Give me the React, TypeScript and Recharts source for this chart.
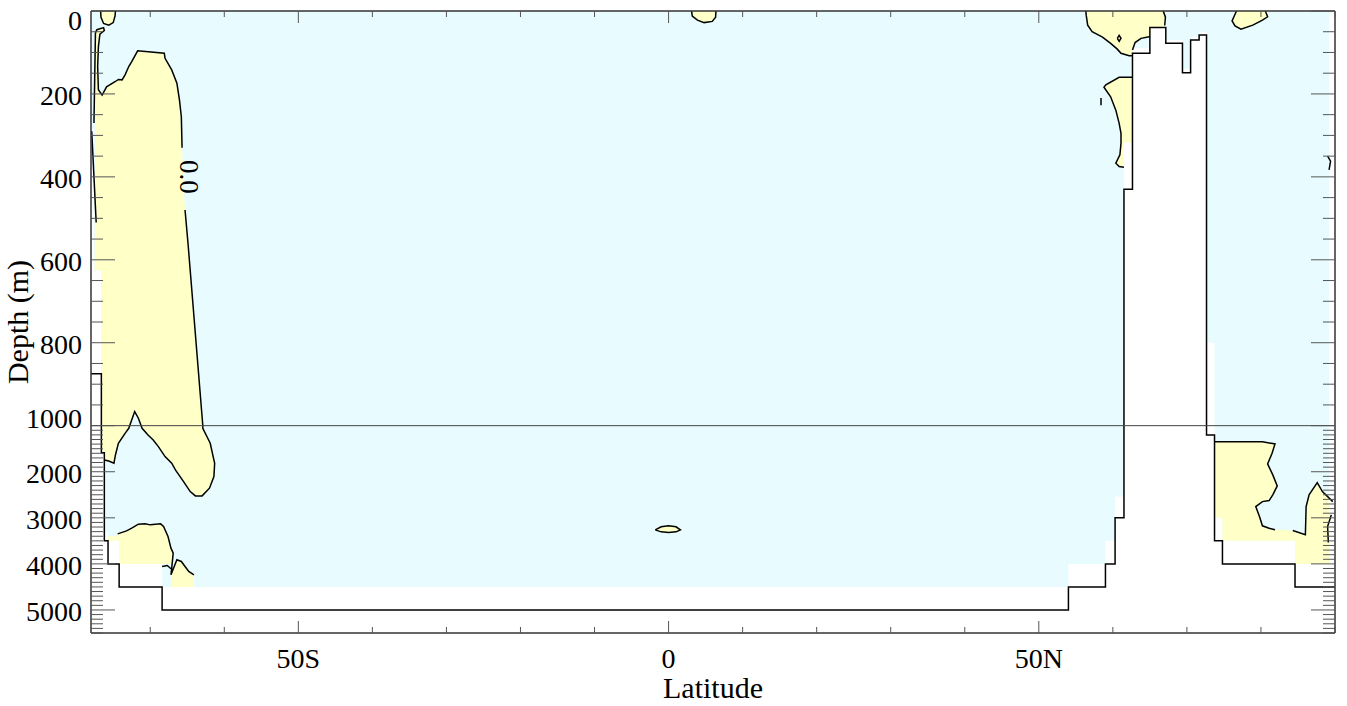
import React from 'react';
import {
  ComposedChart, Area, Line, XAxis, YAxis, ReferenceLine, ReferenceDot, Label,
} from 'recharts';

// depth axis: 0-1000 m linear, below 1000 m squeezed 9x
const SPLIT = 1000;
const SQUEEZE = 9;
const toF = (d: number) => (d <= SPLIT ? d : SPLIT + (d - SPLIT) / SQUEEZE);
const fromF = (f: number) => (f <= SPLIT ? f : SPLIT + (f - SPLIT) * SQUEEZE);

// ---- ticks / labels ----
const latTicks = [-70, -60, -50, -40, -30, -20, -10, 0, 10, 20, 30, 40, 50, 60, 70, 80, 90];
const latLabelValues = [-50, 0, 50];
const latLabelText = ['50S', '0', '50N'];
const depthUpperTicks = Array.from({ length: 21 }, (_, i) => i * 50);
const depthLowerTicks = Array.from({ length: 45 }, (_, i) => 1100 + i * 100);
const depthLabels = [0, 200, 400, 600, 800, 1000, 2000, 3000, 4000, 5000];

// ---- data: [latitude, depth m] ----
// bottom of shaded ocean cells
const oceanFill = [
  [-78, 285], [-77.6, 285], [-77.6, 625], [-76.6, 625], [-76.6, 1590], [-76.2, 1590], [-76.2, 3300],
  [-75.7, 3300], [-75.7, 3500], [-74.2, 3500], [-74.2, 4000], [-68.4, 4000], [-68.4, 4500], [54, 4500],
  [54, 4000], [59, 4000], [59, 3500], [60.3, 3500], [60.3, 2540], [61.5, 2540], [61.5, 318], [62.65, 318],
  [62.65, 90], [65, 90], [65, 30], [67.15, 30], [67.15, 70], [69.4, 70], [69.4, 140], [70.5, 140],
  [70.5, 62], [71.65, 62], [71.65, 50], [72.65, 50], [72.65, 800], [73.73, 800], [73.73, 3000],
  [74.8, 3000], [74.8, 3500], [84.6, 3500], [84.6, 4000], [89.2, 4000], [89.2, 0], [90, 0],
];

// model topography (step outline)
const topography = [
  [-78, 875], [-76.6, 875], [-76.6, 1590], [-76.2, 1590], [-76.2, 3500], [-75.7, 3500], [-75.7, 4000],
  [-74.2, 4000], [-74.2, 4500], [-68.4, 4500], [-68.4, 5000], [54, 5000], [54, 4500], [59, 4500],
  [59, 4000], [60.3, 4000], [60.3, 3000], [61.5, 3000], [61.5, 430], [62.65, 430], [62.65, 102],
  [65, 102], [65, 40], [67.15, 40], [67.15, 78], [69.4, 78], [69.4, 149], [70.5, 149], [70.5, 70],
  [71.65, 70], [71.65, 58], [72.65, 58], [72.65, 1200], [73.73, 1200], [73.73, 3500], [74.8, 3500],
  [74.8, 4000], [84.6, 4000], [84.6, 4500], [90, 4500],
];

// positive (yellow) regions
const southBlob = [
  [-77.4, 52], [-77.2, 45], [-76.3, 40], [-76.2, 47], [-76.8, 56], [-77.0, 86], [-77.1, 134], [-77.0, 190],
  [-76.5, 203], [-75.9, 183], [-74.7, 170], [-74.3, 165], [-73.8, 166], [-73.4, 154], [-72.9, 134],
  [-72.5, 122], [-71.7, 96], [-68.1, 102], [-68.0, 114], [-67.1, 142], [-66.4, 174], [-66.05, 215],
  [-65.8, 255], [-65.7, 330], [-65.5, 420], [-65.3, 480], [-64.9, 560], [-62.9, 1000], [-62.9, 1057],
  [-61.9, 1382], [-61.3, 1815], [-61.4, 2105], [-62.0, 2357], [-63.0, 2524], [-63.9, 2524], [-64.6, 2431],
  [-65.5, 2214], [-66.6, 1960], [-67.1, 1815], [-68.0, 1672], [-68.9, 1455], [-69.6, 1310], [-70.3, 1202],
  [-71.1, 1057], [-71.6, 982], [-72.1, 966], [-72.9, 1057], [-73.4, 1166], [-74.3, 1382], [-74.7, 1636],
  [-74.9, 1815], [-75.6, 1766], [-76.2, 1745], [-76.2, 1590], [-76.6, 1590], [-76.6, 625], [-77.5, 625],
  [-77.4, 52],
];
const deepSouthA = [
  [-75.7, 3400], [-74.4, 3400], [-74.4, 3348], [-73.2, 3283], [-72.5, 3225], [-71.6, 3138], [-70.7, 3131],
  [-70.0, 3153], [-68.6, 3131], [-68.2, 3189], [-67.6, 3406], [-67.2, 3658], [-66.9, 3766], [-67.05, 4000],
  [-74.2, 4000], [-74.2, 3500], [-75.7, 3500], [-75.7, 3400],
];
const deepSouthB = [
  [-67.2, 4237], [-66.4, 3911], [-65.8, 3948], [-65.3, 4056], [-64.8, 4164], [-64.1, 4237], [-64.1, 4500],
  [-67.1, 4500], [-67.2, 4237],
];
const surfSouth = [
  [-76.7, 0], [-76.65, 15], [-76.3, 30], [-75.6, 34], [-75.0, 28], [-74.75, 12], [-74.7, 0], [-76.7, 0],
];
const surfEq = [[3.1, 0], [3.2, 12], [3.9, 22], [4.8, 28], [5.9, 25], [6.35, 15], [6.4, 0], [3.1, 0]];
const deepEq = [
  [-1.8, 3261], [-1.0, 3195], [0, 3170], [1.0, 3195], [1.6, 3261], [1.0, 3305], [0, 3320], [-1.0, 3305],
  [-1.8, 3261],
];
const northSurf = [
  [56.35, 0], [56.4, 10], [56.6, 34], [57.2, 50], [58.6, 63], [59.7, 78], [60.6, 92], [61.1, 102],
  [62.2, 108], [62.65, 108], [62.65, 94], [63.0, 76], [63.8, 66], [64.9, 62], [65, 40], [67.0, 40],
  [67.0, 30], [67.1, 15], [66.8, 0], [56.35, 0],
];
const northSub = [
  [60.85, 160], [62.65, 160], [62.65, 318], [61.5, 318], [61.5, 377], [60.85, 375], [60.4, 367],
  [60.95, 347], [61.1, 319], [61.1, 295], [60.85, 271], [60.4, 239], [59.7, 207], [58.8, 184],
  [59.05, 178], [60.85, 160],
];
const arcticSurf = [
  [76.7, 0], [76.5, 8], [76.1, 24], [76.5, 36], [77.3, 44], [78.9, 34], [80.2, 22], [80.9, 14], [80.7, 5],
  [80.6, 0], [76.7, 0],
];
const arcticDeep = [
  [73.73, 1347], [80.2, 1347], [81.9, 1397], [81.5, 1598], [80.9, 1830], [81.6, 2069], [82.2, 2307],
  [81.6, 2502], [81.1, 2625], [80.2, 2648], [79.3, 2756], [79.8, 2973], [80.2, 3174], [81.1, 3225],
  [81.9, 3261], [84.3, 3276], [86.0, 3369], [86.1, 2756], [86.5, 2502], [87.6, 2236], [88.3, 2431],
  [89.2, 2560], [89.2, 4000], [84.6, 4000], [84.6, 3500], [74.8, 3500], [74.8, 3000], [73.73, 3000],
  [73.73, 1347],
];

// zero contour lines
const contourLines = [
  [[-77.4, 52], [-77.2, 45], [-76.3, 40], [-76.2, 47], [-76.8, 56], [-77.0, 86], [-77.1, 134], [-77.0, 190],
    [-76.5, 203], [-75.9, 183], [-74.7, 170], [-74.3, 165], [-73.8, 166], [-73.4, 154], [-72.9, 134],
    [-72.5, 122], [-71.7, 96], [-68.1, 102], [-68.0, 114], [-67.1, 142], [-66.4, 174], [-66.05, 215],
    [-65.8, 255], [-65.7, 330]],
  [[-65.3, 480], [-64.9, 560], [-62.9, 1000], [-62.9, 1057], [-61.9, 1382], [-61.3, 1815], [-61.4, 2105],
    [-62.0, 2357], [-63.0, 2524], [-63.9, 2524], [-64.6, 2431], [-65.5, 2214], [-66.6, 1960], [-67.1, 1815],
    [-68.0, 1672], [-68.9, 1455], [-69.6, 1310], [-70.3, 1202], [-71.1, 1057], [-71.6, 982], [-72.1, 966],
    [-72.9, 1057], [-73.4, 1166], [-74.3, 1382], [-74.7, 1636], [-74.9, 1815], [-75.6, 1766], [-76.2, 1745]],
  [[-77.4, 52], [-77.6, 270]],
  [[-77.9, 290], [-77.3, 510]],
  [[-76.7, 0], [-76.65, 15], [-76.3, 30], [-75.6, 34], [-75.0, 28], [-74.75, 12], [-74.7, 0]],
  [[-74.4, 3348], [-73.2, 3283], [-72.5, 3225], [-71.6, 3138], [-70.7, 3131], [-70.0, 3153], [-68.6, 3131],
    [-68.2, 3189], [-67.6, 3406], [-67.2, 3658], [-66.9, 3766], [-67.1, 4091], [-67.2, 4237], [-66.4, 3911],
    [-65.8, 3948], [-65.3, 4056], [-64.8, 4164], [-64.1, 4237]],
  [[-68.4, 4056], [-67.7, 4035], [-67.2, 4106]],
  [[3.1, 0], [3.2, 12], [3.9, 22], [4.8, 28], [5.9, 25], [6.35, 15], [6.4, 0]],
  [[-1.8, 3261], [-1.0, 3195], [0, 3170], [1.0, 3195], [1.6, 3261], [1.0, 3305], [0, 3320], [-1.0, 3305],
    [-1.8, 3261]],
  [[56.35, 0], [56.4, 10], [56.6, 34], [57.2, 50], [58.6, 63], [59.7, 78], [60.6, 92], [61.1, 102],
    [62.2, 108], [62.65, 108]],
  [[62.65, 94], [63.0, 76], [63.8, 66], [64.9, 62], [65.0, 62]],
  [[66.8, 0], [67.1, 15], [67.0, 35]],
  [[60.6, 66], [60.85, 59], [61.1, 66], [60.85, 73], [60.6, 66]],
  [[58.4, 210], [58.4, 227]],
  [[62.65, 160], [60.85, 160], [59.05, 178], [58.8, 184], [59.7, 207], [60.4, 239], [60.85, 271],
    [61.1, 295], [61.1, 319], [60.95, 347], [60.4, 367], [60.85, 375], [61.5, 377]],
  [[76.7, 0], [76.5, 8], [76.1, 24], [76.5, 36], [77.3, 44], [78.9, 34], [80.2, 22], [80.9, 14], [80.7, 5],
    [80.6, 0]],
  [[89.0, 350], [89.4, 362], [89.2, 383]],
  [[73.73, 1347], [80.2, 1347], [81.9, 1397], [81.5, 1598], [80.9, 1830], [81.6, 2069], [82.2, 2307],
    [81.6, 2502], [81.1, 2625], [80.2, 2648], [79.3, 2756], [79.8, 2973], [80.2, 3174], [81.1, 3225],
    [81.9, 3261]],
  [[84.3, 3276], [86.0, 3369], [86.1, 2756], [86.5, 2502], [87.6, 2236], [88.3, 2431], [89.7, 2648]],
  [[89.5, 2936], [89.0, 3189], [89.1, 3536]],
];

const yellowRegions = [southBlob, deepSouthA, deepSouthB, surfSouth, surfEq, deepEq, northSurf, northSub,
  arcticSurf, arcticDeep];

const rows = (pts: number[][]) => pts.map(([lat, d]) => ({ lat, f: toF(d) }));

const CYAN = '#e8fcff';
const YELLOW = '#ffffc8';
const TICK = '#555';
const FRAME = '#333';
const FONT = '"Liberation Serif", "Times New Roman", serif';

function DepthTick(props: any) {
  const { x, y, payload, side } = props;
  const d = Math.round(fromF(payload.value));
  const major = d <= SPLIT ? d % 200 === 0 : d % 1000 === 0;
  const len = major ? 24 : 12;
  const dir = side === 'left' ? 1 : -1;
  const showLabel = side === 'left' && depthLabels.includes(d);
  const shift = d === 0 ? 9 : d === SPLIT ? -7 : 2;
  return (
    <g>
      <line x1={x} x2={x + dir * len} y1={y} y2={y} stroke={TICK} strokeWidth={1} />
      {showLabel && (
        <text x={x - 9} y={y + shift + 9.5} textAnchor="end" fontSize={28} fontFamily={FONT} fill="#000">
          {d}
        </text>
      )}
    </g>
  );
}

function LatTick(props: any) {
  const { x, y, payload, side } = props;
  const v = payload.value;
  const major = v % 50 === 0;
  const len = major ? 12 : 6;
  const dir = side === 'bottom' ? -1 : 1;
  const idx = latLabelValues.indexOf(v);
  return (
    <g>
      <line x1={x} x2={x} y1={y} y2={y + dir * len} stroke={TICK} strokeWidth={1} />
      {side === 'bottom' && idx >= 0 && (
        <text x={x} y={y + 35} textAnchor="middle" fontSize={28} fontFamily={FONT} fill="#000">
          {latLabelText[idx]}
        </text>
      )}
    </g>
  );
}

function LatTitle(props: any) {
  const vb = props.viewBox || { x: 91, y: 633, width: 1244, height: 73 };
  return (
    <text x={vb.x + vb.width / 2} y={vb.y + 65} textAnchor="middle" fontSize={30} fontFamily={FONT} fill="#000">
      Latitude
    </text>
  );
}

function DepthTitle(props: any) {
  const vb = props.viewBox || { x: 0, y: 11, width: 91, height: 622 };
  const cx = 28;
  const cy = vb.y + vb.height / 2;
  return (
    <text x={cx} y={cy} transform={`rotate(-90, ${cx}, ${cy})`} textAnchor="middle" fontSize={30}
      fontFamily={FONT} fill="#000">
      Depth (m)
    </text>
  );
}

const fTicks = [...depthUpperTicks, ...depthLowerTicks].map(toF);

export default function App() {
  return (
    <div style={{ position: 'absolute', left: 0, top: 0, width: 1347, height: 706, background: '#fff' }}>
      <ComposedChart width={1347} height={706} margin={{ top: 10, right: 0, bottom: 0, left: 0 }}>
        <Area xAxisId="b" yAxisId="l" data={rows(oceanFill)} dataKey="f" type="linear" baseValue={0}
          fill={CYAN} fillOpacity={1} stroke="none" dot={false} activeDot={false} isAnimationActive={false} />
        {yellowRegions.map((poly, i) => (
          <Area key={`y${i}`} xAxisId="b" yAxisId="l" data={rows(poly)} dataKey="f" type="linear" baseValue={0}
            fill={YELLOW} fillOpacity={1} stroke="none" dot={false} activeDot={false} isAnimationActive={false} />
        ))}
        {contourLines.map((c, i) => (
          <Line key={`c${i}`} xAxisId="b" yAxisId="l" data={rows(c)} dataKey="f" type="linear" stroke="#000"
            strokeWidth={1.5} dot={false} activeDot={false} isAnimationActive={false} />
        ))}
        <Line xAxisId="b" yAxisId="l" data={rows(topography)} dataKey="f" type="linear" stroke="#000"
          strokeWidth={1.5} dot={false} activeDot={false} isAnimationActive={false} />
        <ReferenceLine xAxisId="b" yAxisId="l" y={SPLIT} stroke="#444" strokeWidth={1} />
        <ReferenceDot xAxisId="b" yAxisId="l" x={-64.8} y={toF(400)} r={0}
          shape={(p: any) => (
            <text x={p.cx} y={p.cy} transform={`rotate(90, ${p.cx}, ${p.cy})`} textAnchor="middle"
              dominantBaseline="central" fontSize={27} fontFamily={FONT} fill="#000">0.0</text>
          )} />
        <XAxis xAxisId="b" type="number" dataKey="lat" domain={[-78, 90]} allowDataOverflow ticks={latTicks}
          interval={0} orientation="bottom" height={73} tickSize={0} tickMargin={0} tickLine={false}
          axisLine={{ stroke: FRAME, strokeWidth: 1.5 }} tick={(p: any) => <LatTick {...p} side="bottom" />}>
          <Label content={LatTitle} />
        </XAxis>
        <XAxis xAxisId="t" type="number" dataKey="lat" domain={[-78, 90]} allowDataOverflow ticks={latTicks}
          interval={0} orientation="top" height={1} tickSize={0} tickMargin={0} tickLine={false}
          axisLine={{ stroke: FRAME, strokeWidth: 1.5 }} tick={(p: any) => <LatTick {...p} side="top" />} />
        <YAxis yAxisId="l" type="number" dataKey="f" domain={[0, 1500]} allowDataOverflow reversed ticks={fTicks}
          interval={0} orientation="left" width={91} tickSize={0} tickMargin={0} tickLine={false}
          axisLine={{ stroke: FRAME, strokeWidth: 1.5 }} tick={(p: any) => <DepthTick {...p} side="left" />}>
          <Label content={DepthTitle} />
        </YAxis>
        <YAxis yAxisId="r" type="number" dataKey="f" domain={[0, 1500]} allowDataOverflow reversed ticks={fTicks}
          interval={0} orientation="right" width={12} tickSize={0} tickMargin={0} tickLine={false}
          axisLine={{ stroke: FRAME, strokeWidth: 1.5 }} tick={(p: any) => <DepthTick {...p} side="right" />} />
      </ComposedChart>
    </div>
  );
}
